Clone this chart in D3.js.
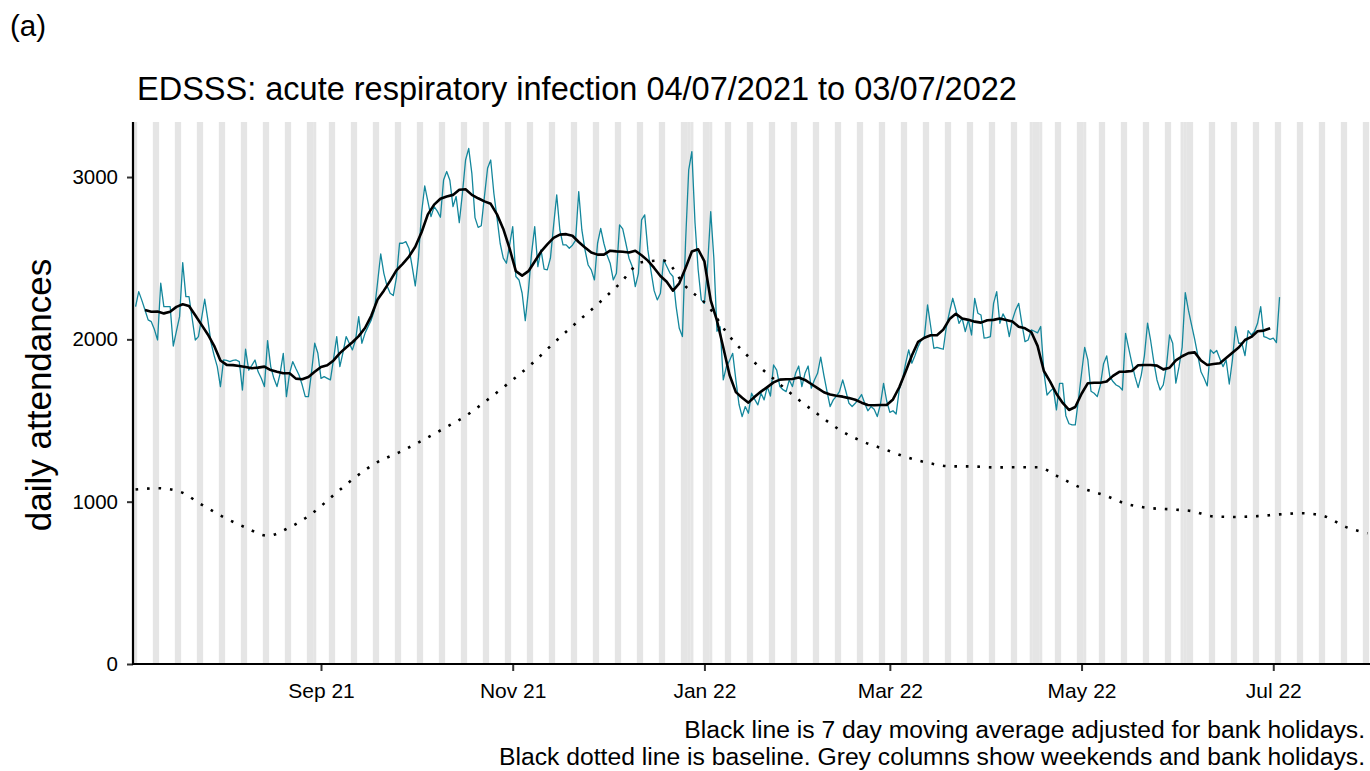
<!DOCTYPE html>
<html>
<head>
<meta charset="utf-8">
<script src="https://cdn.jsdelivr.net/npm/d3@7"></script>
<style>
  body { margin: 0; background: #ffffff; }
  svg { display: block; }
  text { font-family: "Liberation Sans", Arial, Helvetica, sans-serif; fill: #000; }
</style>
</head>
<body>
<svg id="chart" width="1370" height="771"></svg>
<script>
// Daily attendances, one value per day from 04/07/2021 to 03/07/2022
const firstDay = "2021-07-04";
const dailyAttendances = [
  2202, 2294, 2240, 2181, 2120, 2109, 2060,
  1996, 2346, 2202, 2202, 2202, 1959, 2050,
  2140, 2473, 2263, 2263, 2130, 1996, 2017,
  2130, 2247, 2120, 1980, 1900, 1832, 1709,
  1873, 1870, 1863, 1870, 1873, 1863, 1688,
  1939, 1811, 1840, 1873, 1800, 1760, 1709,
  1992, 1832, 1760, 1709, 1791, 1914, 1647,
  1791, 1863, 1820, 1780, 1720, 1647, 1647,
  1800, 1976, 1914, 1760, 1770, 1760, 1750,
  1880, 2017, 1832, 1920, 2017, 1976, 1935,
  1996, 2140, 1976, 2037, 2080, 2120, 2181,
  2350, 2526, 2407, 2330, 2284, 2270, 2380,
  2592, 2592, 2602, 2560, 2450, 2329, 2500,
  2780, 2945, 2850, 2756, 2818, 2790, 2752,
  2982, 3034, 2980, 2818, 2880, 2719, 2900,
  3105, 3177, 3023, 2750, 2690, 2700, 2880,
  3054, 3105, 2900, 2750, 2592, 2500, 2469,
  2580, 2695, 2387, 2366, 2284, 2115, 2300,
  2530, 2695, 2448, 2551, 2432, 2428, 2500,
  2700, 2890, 2674, 2582, 2582, 2561, 2580,
  2610, 2910, 2674, 2551, 2458, 2428, 2366,
  2592, 2684, 2592, 2520, 2469, 2366, 2407,
  2705, 2680, 2592, 2500, 2450, 2325, 2407,
  2736, 2767, 2551, 2420, 2300, 2243, 2284,
  2489, 2450, 2410, 2387, 2202, 2068, 2017,
  2600, 3044, 3157, 2720, 2430, 2243, 2222,
  2450, 2787, 2500, 2050, 2078, 1750, 1832,
  1870, 1914, 1750, 1600, 1524, 1586, 1545,
  1668, 1630, 1596, 1668, 1627, 1709, 1650,
  1842, 1811, 1709, 1690, 1678, 1750, 1709,
  1791, 1836, 1709, 1791, 1836, 1699, 1750,
  1791, 1890, 1780, 1680, 1586, 1627, 1650,
  1680, 1750, 1680, 1606, 1586, 1606, 1630,
  1660, 1606, 1560, 1586, 1570, 1524, 1600,
  1729, 1620, 1550, 1560, 1540, 1690, 1750,
  1850, 1935, 1853, 1900, 1955, 1996, 2017,
  2212, 2079, 1945, 1951, 1945, 1939, 2079,
  2170, 2253, 2181, 2099, 2130, 2048, 2120,
  2027, 2253, 2161, 2150, 2007, 2010, 2017,
  2222, 2294, 2099, 2157, 2120, 2017, 2120,
  2180, 2222, 2099, 1986, 1996, 2058, 2050,
  2040, 2079, 1800, 1657, 1680, 1698, 1565,
  1729, 1729, 1530, 1480, 1473, 1473, 1627,
  1791, 1951, 1873, 1680, 1668, 1647, 1720,
  1850, 1898, 1770, 1740, 1719, 1709, 1688,
  2037, 1945, 1853, 1770, 1703, 1780, 1900,
  2100, 1990, 1860, 1750, 1688, 1719, 1832,
  2027, 1976, 1730, 1830, 1950, 2288, 2180,
  2089, 2000, 1900, 1800, 1760, 1713, 1935,
  1914, 1931, 1880, 1832, 1873, 1725, 1873,
  2079, 1976, 1976, 1900, 2054, 2027, 2048,
  2099, 2202, 2017, 2010, 2000, 2007, 1980,
  2260
];

// 7 day moving average, every second day from 07/07/2021
const movingAverageStart = "2021-07-07";
const movingAverageStepDays = 2;
const movingAverage = [
  2181, 2170, 2171, 2160, 2170, 2200, 2216, 2206, 2148, 2089,
  2030, 1960, 1870, 1843, 1841, 1836, 1830, 1822, 1826, 1832,
  1811, 1800, 1791, 1791, 1758, 1754, 1768, 1800, 1830, 1840,
  1870, 1915, 1950, 1982, 2020, 2070, 2145, 2245, 2300, 2360,
  2425, 2465, 2510, 2570, 2660, 2770, 2830, 2866, 2880, 2890,
  2922, 2925, 2890, 2869, 2850, 2835, 2770, 2680, 2560, 2420,
  2393, 2420, 2480, 2540, 2585, 2625, 2645, 2648, 2638, 2600,
  2566, 2535, 2522, 2522, 2546, 2542, 2540, 2535, 2546, 2518,
  2485, 2440, 2390, 2355, 2300, 2345, 2440, 2541, 2555, 2480,
  2240, 2115, 1950, 1780, 1675, 1640, 1610, 1646, 1678, 1706,
  1735, 1752, 1754, 1756, 1765, 1750, 1725, 1700, 1674, 1660,
  1653, 1647, 1638, 1628, 1610, 1596, 1594, 1596, 1596, 1630,
  1705, 1800, 1900, 1985, 2010, 2025, 2025, 2060, 2125, 2157,
  2128, 2120, 2109, 2103, 2118, 2120, 2128, 2119, 2110, 2078,
  2068, 2045, 1960, 1805, 1740, 1665, 1608, 1565, 1583, 1665,
  1730, 1733, 1733, 1740, 1775, 1800, 1801, 1805, 1840, 1842,
  1842, 1838, 1815, 1825, 1870, 1896, 1915, 1920, 1870, 1842,
  1848, 1853, 1885, 1918, 1950, 1996, 2015, 2050, 2054, 2068
];

// Baseline, weekly from 04/07/2021 to 31/07/2022
const baselineStart = "2021-07-04";
const baselineStepDays = 7;
const baseline = [
  1075, 1083, 1062, 982, 905, 841, 790, 842, 925, 1040,
  1152, 1244, 1305, 1375, 1450, 1528, 1628, 1735, 1848, 1976,
  2098, 2216, 2342, 2475, 2486, 2326, 2208, 2018, 1875, 1757,
  1643, 1540, 1443, 1373, 1325, 1276, 1240, 1218, 1217, 1211,
  1212, 1212, 1150, 1084, 1042, 988, 962, 953, 942, 909,
  906, 911, 922, 929, 912, 845, 805
];

// Bank holidays in the period shown
const bankHolidays = [
  "2021-08-30", "2021-12-27", "2021-12-28", "2022-01-03",
  "2022-04-15", "2022-04-18", "2022-05-02", "2022-06-02", "2022-06-03"
];
const shadeFrom = "2021-07-04";
const shadeTo = "2022-07-31";

const yTicks = [0, 1000, 2000, 3000];
const xTickFormat = "%b %y";

const panelLabel = "(a)";
const titleText = "EDSSS: acute respiratory infection 04/07/2021 to 03/07/2022";
const yLabel = "daily attendances";
const captionLines = [
  "Black line is 7 day moving average adjusted for bank holidays.",
  "Black dotted line is baseline. Grey columns show weekends and bank holidays."
];

// ---- layout ----
const W = 1370, H = 771;
const panel = { left: 134, right: 1370.7, top: 122, bottom: 664 };
const fontStack = '"Liberation Sans", Arial, sans-serif';

const parse = d3.timeParse("%Y-%m-%d");
const day0 = parse(firstDay);

const x = d3.scaleTime()
  .domain([d3.timeHour.offset(parse("2021-07-03"), 12), parse("2022-08-01")])
  .range([panel.left, panel.right]);
const y = d3.scaleLinear()
  .domain([0, 3339])
  .range([panel.bottom, panel.top]);

const svg = d3.select("#chart");

svg.append("defs").append("clipPath").attr("id", "panelClip")
  .append("rect")
  .attr("x", panel.left).attr("y", panel.top)
  .attr("width", panel.right - panel.left).attr("height", panel.bottom - panel.top);

const plot = svg.append("g").attr("clip-path", "url(#panelClip)");

// grey columns: weekends and bank holidays
const holidaySet = new Set(bankHolidays);
const fmtKey = d3.timeFormat("%Y-%m-%d");
const shadedDays = d3.timeDay.range(parse(shadeFrom), d3.timeDay.offset(parse(shadeTo), 1))
  .filter(d => d.getDay() === 0 || d.getDay() === 6 || holidaySet.has(fmtKey(d)));

plot.append("g").selectAll("rect")
  .data(shadedDays)
  .join("rect")
  .attr("x", d => x(d3.timeHour.offset(d, -12)))
  .attr("width", d => x(d3.timeHour.offset(d, 12)) - x(d3.timeHour.offset(d, -12)))
  .attr("y", panel.top)
  .attr("height", panel.bottom - panel.top)
  .attr("fill", "#e5e5e5");

// series
const daily = dailyAttendances.map((v, i) => ({ date: d3.timeDay.offset(day0, i), value: v }));
const maStart = parse(movingAverageStart);
const ma = movingAverage.map((v, i) => ({ date: d3.timeDay.offset(maStart, i * movingAverageStepDays), value: v }));
const blStart = parse(baselineStart);
const base = baseline.map((v, i) => ({ date: d3.timeDay.offset(blStart, i * baselineStepDays), value: v }));

const line = d3.line().x(d => x(d.date)).y(d => y(d.value));

plot.append("path")
  .datum(daily)
  .attr("d", line)
  .attr("fill", "none")
  .attr("stroke", "#14879c")
  .attr("stroke-width", 1.3)
  .attr("stroke-linejoin", "round");

plot.append("path")
  .datum(base)
  .attr("d", d3.line().x(d => x(d.date)).y(d => y(d.value)).curve(d3.curveMonotoneX))
  .attr("fill", "none")
  .attr("stroke", "#000")
  .attr("stroke-width", 2.6)
  .attr("stroke-dasharray", "2.6 8.9");

plot.append("path")
  .datum(ma)
  .attr("d", line)
  .attr("fill", "none")
  .attr("stroke", "#000")
  .attr("stroke-width", 2.6)
  .attr("stroke-linejoin", "round");

// axes
const xAxis = d3.axisBottom(x)
  .ticks(d3.timeMonth.every(2))
  .tickFormat(d3.timeFormat(xTickFormat))
  .tickSizeOuter(0)
  .tickSize(7)
  .tickPadding(12);
const gx = svg.append("g").attr("transform", `translate(0,${panel.bottom})`).call(xAxis);
gx.select(".domain").remove();
gx.selectAll(".tick line").attr("stroke", "#333").attr("stroke-width", 2);
gx.selectAll(".tick text").attr("font-size", 21).attr("fill", "#000")
  .style("font-family", fontStack);

const yAxis = d3.axisLeft(y)
  .tickValues(yTicks)
  .tickFormat(d3.format("d"))
  .tickSizeOuter(0)
  .tickSize(6)
  .tickPadding(9);
const gy = svg.append("g").attr("transform", `translate(${panel.left - 1},0)`).call(yAxis);
gy.select(".domain").remove();
gy.selectAll(".tick line").attr("stroke", "#333").attr("stroke-width", 2);
gy.selectAll(".tick text").attr("font-size", 20.5).attr("fill", "#000")
  .style("font-family", fontStack);

// axis lines
svg.append("line")
  .attr("x1", panel.left - 1).attr("x2", panel.left - 1)
  .attr("y1", panel.top).attr("y2", panel.bottom + 1)
  .attr("stroke", "#000").attr("stroke-width", 2.2);
svg.append("line")
  .attr("x1", panel.left - 2).attr("x2", W)
  .attr("y1", panel.bottom).attr("y2", panel.bottom)
  .attr("stroke", "#000").attr("stroke-width", 2.2);

// texts
svg.append("text").attr("x", 10).attr("y", 36).attr("font-size", 29.5).text(panelLabel);
svg.append("text").attr("x", 137).attr("y", 100).attr("font-size", 32.5).text(titleText);
svg.append("text")
  .attr("transform", `translate(51,395) rotate(-90)`)
  .attr("text-anchor", "middle")
  .attr("font-size", 35)
  .text(yLabel);
svg.append("g").selectAll("text")
  .data(captionLines)
  .join("text")
  .attr("x", 1365)
  .attr("y", (d, i) => 738 + i * 27)
  .attr("text-anchor", "end")
  .attr("font-size", 24.7)
  .text(d => d);
</script>
</body>
</html>
